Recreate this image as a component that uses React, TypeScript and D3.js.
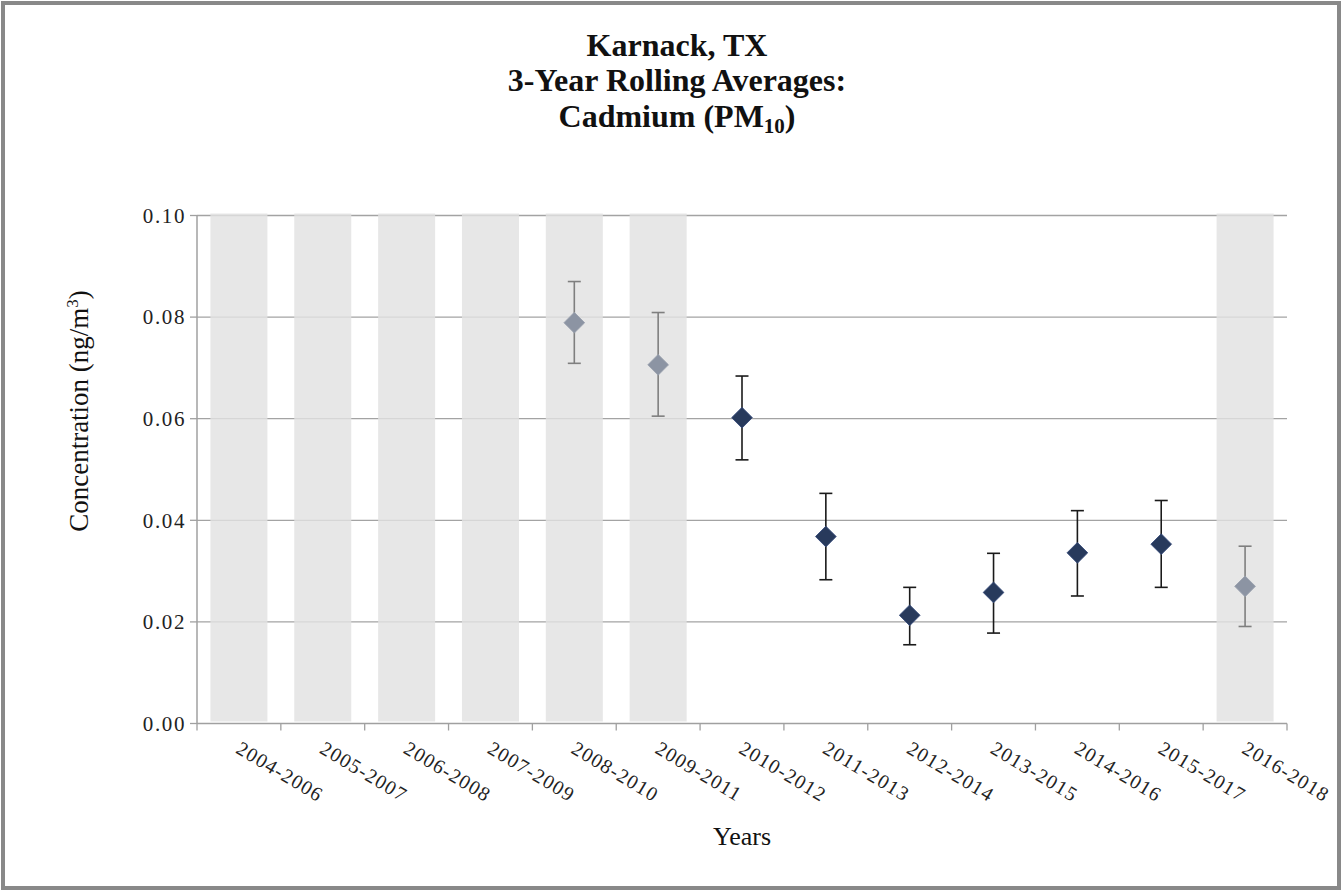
import React, { useRef, useEffect } from "react";
import * as d3 from "d3";

const WIDTH = 1342;
const HEIGHT = 892;
const MARGIN = { top: 215, right: 55, bottom: 168, left: 197 };

const periods = [
  "2004-2006", "2005-2007", "2006-2008", "2007-2009", "2008-2010", "2009-2011", "2010-2012",
  "2011-2013", "2012-2014", "2013-2015", "2014-2016", "2015-2017", "2016-2018",
];
// 3-year averages and error bar ends, ng/m3 (null = no data)
const means = [null, null, null, null, 0.0789, 0.0706, 0.0602, 0.0368, 0.0213, 0.0258, 0.0336, 0.0353, 0.027];
const lows = [null, null, null, null, 0.0709, 0.0605, 0.0519, 0.0283, 0.0155, 0.0178, 0.0251, 0.0268, 0.0191];
const highs = [null, null, null, null, 0.087, 0.0809, 0.0684, 0.0453, 0.0268, 0.0335, 0.0419, 0.0439, 0.0349];
// periods with incomplete data get the grey band
const shaded = [true, true, true, true, true, true, false, false, false, false, false, false, true];
const yTicks = [0, 0.02, 0.04, 0.06, 0.08, 0.1];

const SERIF = "'Liberation Serif', 'Times New Roman', serif";

export default function App() {
  const svgRef = useRef<SVGSVGElement | null>(null);

  useEffect(() => {
    const svg = d3.select(svgRef.current);
    svg.selectAll("*").remove();

    const x = d3
      .scaleBand<string>()
      .domain(periods)
      .range([MARGIN.left, WIDTH - MARGIN.right])
      .paddingInner(0.32)
      .paddingOuter(0.16);
    const y = d3
      .scaleLinear()
      .domain([0, 0.1])
      .range([HEIGHT - MARGIN.bottom - 0.5, MARGIN.top + 0.5]);
    const cx = (p: string) => (x(p) as number) + x.bandwidth() / 2;
    const x0 = MARGIN.left;
    const x1 = WIDTH - MARGIN.right;
    const yBase = y(0);

    // outer frame
    svg
      .append("rect")
      .attr("x", 3)
      .attr("y", 3)
      .attr("width", WIDTH - 6)
      .attr("height", HEIGHT - 7)
      .attr("fill", "#fff")
      .attr("stroke", "#898989")
      .attr("stroke-width", 4);

    // title
    const title = svg
      .append("text")
      .attr("x", 677)
      .attr("text-anchor", "middle")
      .attr("font-family", SERIF)
      .attr("font-weight", "bold")
      .attr("font-size", 32)
      .attr("fill", "#111");
    title.append("tspan").attr("x", 677).attr("y", 56).text("Karnack, TX");
    title.append("tspan").attr("x", 677).attr("y", 91).text("3-Year Rolling Averages:");
    const l3 = title.append("tspan").attr("x", 677).attr("y", 127);
    l3.append("tspan").text("Cadmium (PM");
    l3.append("tspan").attr("font-size", 21).attr("dy", 6).text("10");
    l3.append("tspan").attr("dy", -6).text(")");

    // grid
    svg
      .append("g")
      .selectAll("line")
      .data(yTicks.filter((t) => t > 0))
      .enter()
      .append("line")
      .attr("x1", x0)
      .attr("x2", x1)
      .attr("y1", (d) => y(d))
      .attr("y2", (d) => y(d))
      .attr("stroke", "#a3a3a3")
      .attr("stroke-width", 1.3);

    // grey bands for incomplete periods
    svg
      .append("g")
      .selectAll("rect")
      .data(periods.filter((_, i) => shaded[i]))
      .enter()
      .append("rect")
      .attr("x", (d) => x(d) as number)
      .attr("width", x.bandwidth())
      .attr("y", y(0.1) - 2)
      .attr("height", yBase - y(0.1))
      .attr("fill", "#e2e2e2")
      .attr("fill-opacity", 0.82);

    // axes
    const axisColor = "#a0a0a0";
    svg
      .append("line")
      .attr("x1", x0)
      .attr("x2", x1)
      .attr("y1", yBase)
      .attr("y2", yBase)
      .attr("stroke", axisColor)
      .attr("stroke-width", 1.5);
    svg
      .append("line")
      .attr("x1", x0)
      .attr("x2", x0)
      .attr("y1", y(0.1))
      .attr("y2", yBase)
      .attr("stroke", axisColor)
      .attr("stroke-width", 1.5);
    svg
      .append("g")
      .selectAll("line")
      .data(d3.range(periods.length + 1))
      .enter()
      .append("line")
      .attr("x1", (i) => x0 + i * x.step())
      .attr("x2", (i) => x0 + i * x.step())
      .attr("y1", yBase)
      .attr("y2", yBase + 7)
      .attr("stroke", axisColor)
      .attr("stroke-width", 1.3);
    svg
      .append("g")
      .selectAll("line")
      .data(yTicks)
      .enter()
      .append("line")
      .attr("x1", x0 - 7)
      .attr("x2", x0)
      .attr("y1", (d) => y(d))
      .attr("y2", (d) => y(d))
      .attr("stroke", axisColor)
      .attr("stroke-width", 1.3);

    // y tick labels
    svg
      .append("g")
      .selectAll("text")
      .data(yTicks)
      .enter()
      .append("text")
      .attr("x", x0 - 11)
      .attr("y", (d) => y(d))
      .attr("dy", "0.35em")
      .attr("text-anchor", "end")
      .attr("font-family", SERIF)
      .attr("font-size", 21)
      .attr("letter-spacing", 1.6)
      .attr("fill", "#222")
      .text((d) => d3.format(".2f")(d));

    // x tick labels, rotated
    svg
      .append("g")
      .selectAll("text")
      .data(periods)
      .enter()
      .append("text")
      .attr("transform", (d) => `translate(${cx(d) + 4},${yBase + 15}) rotate(31)`)
      .attr("dy", "0.8em")
      .attr("font-family", SERIF)
      .attr("font-size", 20)
      .attr("letter-spacing", 1.2)
      .attr("fill", "#222")
      .text((d) => d);

    // axis titles
    svg
      .append("text")
      .attr("x", (x0 + x1) / 2)
      .attr("y", 845)
      .attr("text-anchor", "middle")
      .attr("font-family", SERIF)
      .attr("font-size", 26)
      .attr("fill", "#111")
      .text("Years");
    const yl = svg
      .append("text")
      .attr("transform", `translate(88,411) rotate(-90)`)
      .attr("text-anchor", "middle")
      .attr("font-family", SERIF)
      .attr("font-size", 27)
      .attr("fill", "#111");
    yl.append("tspan").text("Concentration (ng/m");
    yl.append("tspan").attr("font-size", 17).attr("dy", -10).text("3");
    yl.append("tspan").attr("dy", 10).text(")");

    // error bars and markers
    const idx = d3.range(periods.length).filter((i) => means[i] != null);
    const cap = 6.5;
    const eb = svg.append("g");
    idx.forEach((i) => {
      const px = cx(periods[i]);
      const col = shaded[i] ? "#7f7f7f" : "#1a1a1a";
      const lo = y(lows[i] as number);
      const hi = y(highs[i] as number);
      eb.append("line").attr("x1", px).attr("x2", px).attr("y1", lo).attr("y2", hi)
        .attr("stroke", col).attr("stroke-width", 1.6);
      [lo, hi].forEach((yy) =>
        eb.append("line").attr("x1", px - cap).attr("x2", px + cap).attr("y1", yy).attr("y2", yy)
          .attr("stroke", col).attr("stroke-width", 1.6)
      );
    });

    const diamond = d3.symbol().type(d3.symbolSquare).size(215);
    svg
      .append("g")
      .selectAll("path")
      .data(idx)
      .enter()
      .append("path")
      .attr("d", diamond)
      .attr("transform", (i) => `translate(${cx(periods[i])},${y(means[i] as number)}) rotate(45)`)
      .attr("fill", (i) => (shaded[i] ? "#8c94a3" : "#283a5c"))
      .attr("stroke", (i) => (shaded[i] ? "#9aa1ae" : "#34497a"))
      .attr("stroke-width", 0.8);
  }, []);

  return (
    <svg
      ref={svgRef}
      width={WIDTH}
      height={HEIGHT}
      style={{ position: "absolute", left: 0, top: 0, display: "block", background: "#fff" }}
    />
  );
}
